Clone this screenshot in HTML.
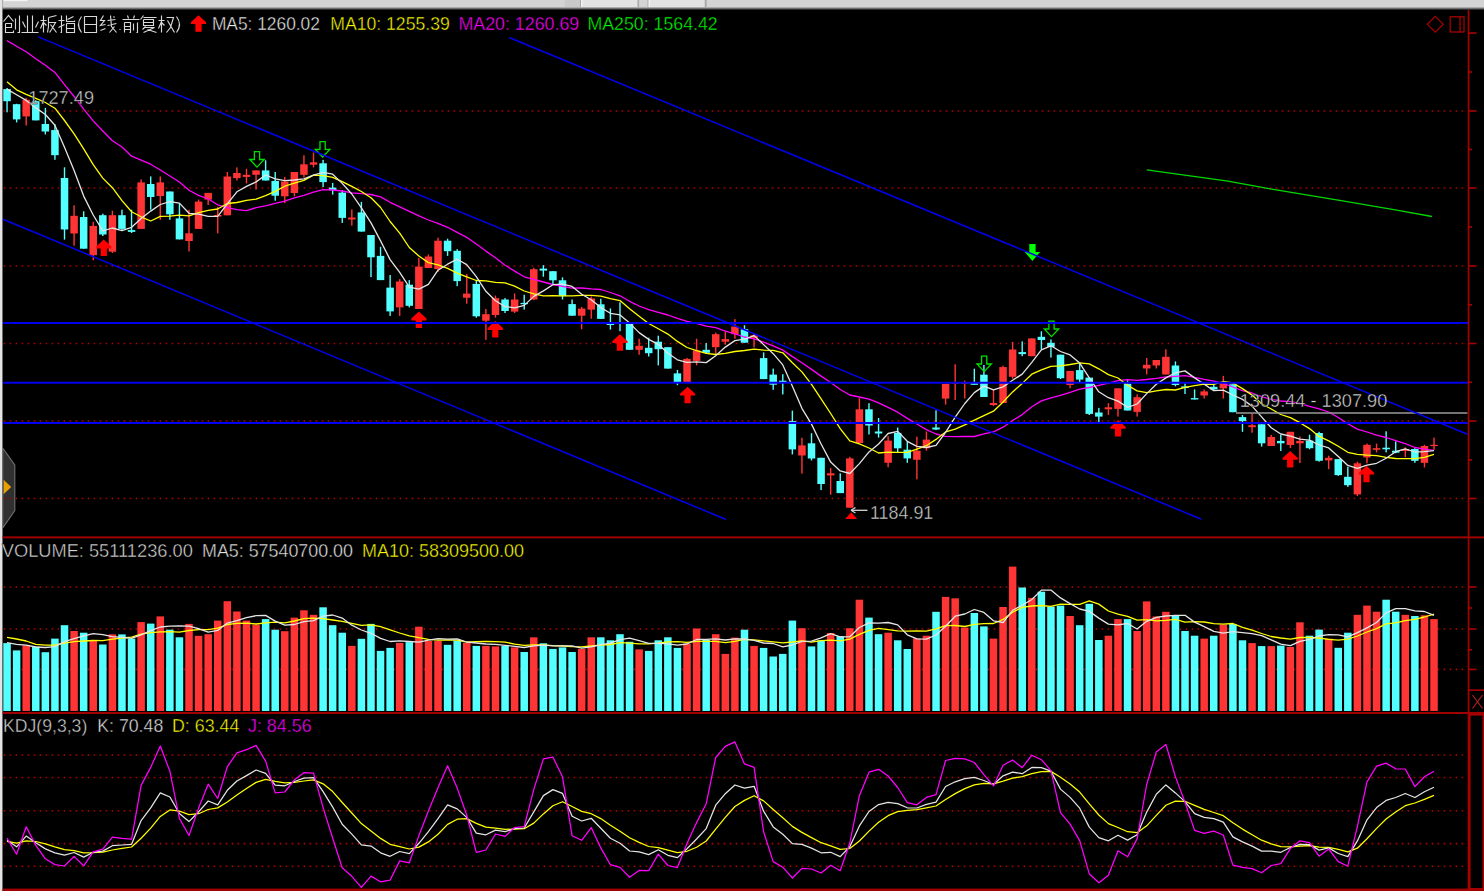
<!DOCTYPE html><html><head><meta charset="utf-8"><style>
html,body{margin:0;padding:0;background:#000;width:1484px;height:891px;overflow:hidden}
svg{display:block}
text{font-family:"Liberation Sans",sans-serif}
</style></head><body>
<svg width="1484" height="891" viewBox="0 0 1484 891">
<defs><linearGradient id="tg" x1="0" y1="0" x2="0" y2="1"><stop offset="0" stop-color="#C8C8C8"/><stop offset="0.5" stop-color="#707070"/><stop offset="1" stop-color="#101010"/></linearGradient></defs>
<rect width="1484" height="891" fill="#000"/>
<rect x="0" y="0" width="1484" height="7" fill="#D4D4D4"/>
<rect x="0" y="7" width="1484" height="3" fill="url(#tg)"/>
<rect x="3.5" y="0" width="24" height="1.2" fill="#F4F4F4"/>
<rect x="564.5" y="0" width="15.5" height="7" fill="#C9C9C9"/>
<rect x="580" y="0" width="1.3" height="7" fill="#A8A8A8"/>
<rect x="581.3" y="0" width="56.5" height="7" fill="#E2E2E2"/>
<rect x="581.3" y="0" width="1.2" height="7" fill="#F6F6F6"/>
<rect x="637.5" y="0" width="1.6" height="7" fill="#A8A8A8"/>
<rect x="647.5" y="0" width="1.2" height="7" fill="#A8A8A8"/>
<rect x="648.7" y="0" width="56" height="7" fill="#E2E2E2"/>
<rect x="648.7" y="0" width="1.2" height="7" fill="#F6F6F6"/>
<rect x="704.8" y="0" width="1.8" height="7" fill="#A8A8A8"/>
<rect x="0" y="0" width="2" height="891" fill="#E4E4E4"/>
<rect x="2" y="0" width="0.7" height="891" fill="#9A9A9A"/>
<path d="M2.7 448 L14.8 465 L14.8 510.5 L2.7 528 Z" fill="#404040" fill-opacity="0.75" stroke="#707070" stroke-width="1.1"/>
<line x1="3.6" y1="111.0" x2="1467.0" y2="111.0" stroke="#B00000" stroke-width="1.6" stroke-dasharray="1.6 4.4"/>
<line x1="3.6" y1="188.0" x2="1467.0" y2="188.0" stroke="#B00000" stroke-width="1.6" stroke-dasharray="1.6 4.4"/>
<line x1="3.6" y1="266.0" x2="1467.0" y2="266.0" stroke="#B00000" stroke-width="1.6" stroke-dasharray="1.6 4.4"/>
<line x1="3.6" y1="343.5" x2="1467.0" y2="343.5" stroke="#B00000" stroke-width="1.6" stroke-dasharray="1.6 4.4"/>
<line x1="3.6" y1="421.0" x2="1467.0" y2="421.0" stroke="#B00000" stroke-width="1.6" stroke-dasharray="1.6 4.4"/>
<line x1="3.6" y1="498.5" x2="1467.0" y2="498.5" stroke="#B00000" stroke-width="1.6" stroke-dasharray="1.6 4.4"/>
<line x1="3.6" y1="587.0" x2="1467.0" y2="587.0" stroke="#B00000" stroke-width="1.6" stroke-dasharray="1.6 4.4"/>
<line x1="3.6" y1="629.0" x2="1467.0" y2="629.0" stroke="#B00000" stroke-width="1.6" stroke-dasharray="1.6 4.4"/>
<line x1="3.6" y1="669.4" x2="1467.0" y2="669.4" stroke="#B00000" stroke-width="1.6" stroke-dasharray="1.6 4.4"/>
<line x1="3.6" y1="755.0" x2="1467.0" y2="755.0" stroke="#B00000" stroke-width="1.6" stroke-dasharray="1.6 4.4"/>
<line x1="3.6" y1="777.5" x2="1467.0" y2="777.5" stroke="#B00000" stroke-width="1.6" stroke-dasharray="1.6 4.4"/>
<line x1="3.6" y1="810.7" x2="1467.0" y2="810.7" stroke="#B00000" stroke-width="1.6" stroke-dasharray="1.6 4.4"/>
<line x1="3.6" y1="843.6" x2="1467.0" y2="843.6" stroke="#B00000" stroke-width="1.6" stroke-dasharray="1.6 4.4"/>
<line x1="3.6" y1="866.2" x2="1467.0" y2="866.2" stroke="#B00000" stroke-width="1.6" stroke-dasharray="1.6 4.4"/>
<rect x="6.35" y="88.00" width="1.4" height="24.30" fill="#54FFFF"/>
<rect x="3.30" y="89.10" width="7.5" height="12.10" fill="#54FFFF"/>
<rect x="15.93" y="103.80" width="1.4" height="18.60" fill="#54FFFF"/>
<rect x="12.88" y="104.20" width="7.5" height="15.20" fill="#54FFFF"/>
<rect x="25.50" y="97.80" width="1.4" height="27.70" fill="#FF3434"/>
<rect x="22.45" y="99.80" width="7.5" height="16.60" fill="#FF3434"/>
<rect x="35.08" y="100.20" width="1.4" height="20.20" fill="#54FFFF"/>
<rect x="32.03" y="101.20" width="7.5" height="19.20" fill="#54FFFF"/>
<rect x="44.66" y="107.90" width="1.4" height="26.60" fill="#54FFFF"/>
<rect x="41.61" y="124.00" width="7.5" height="7.50" fill="#54FFFF"/>
<rect x="54.23" y="124.40" width="1.4" height="35.40" fill="#54FFFF"/>
<rect x="51.18" y="130.10" width="7.5" height="25.10" fill="#54FFFF"/>
<rect x="63.81" y="167.30" width="1.4" height="72.30" fill="#54FFFF"/>
<rect x="60.76" y="178.00" width="7.5" height="51.50" fill="#54FFFF"/>
<rect x="73.39" y="205.30" width="1.4" height="40.40" fill="#FF3434"/>
<rect x="70.34" y="215.80" width="7.5" height="17.70" fill="#FF3434"/>
<rect x="82.97" y="211.30" width="1.4" height="37.40" fill="#54FFFF"/>
<rect x="79.92" y="217.00" width="7.5" height="31.70" fill="#54FFFF"/>
<rect x="92.54" y="221.80" width="1.4" height="38.40" fill="#FF3434"/>
<rect x="89.49" y="225.90" width="7.5" height="29.30" fill="#FF3434"/>
<rect x="102.12" y="213.70" width="1.4" height="22.30" fill="#54FFFF"/>
<rect x="99.07" y="215.20" width="7.5" height="19.30" fill="#54FFFF"/>
<rect x="111.70" y="210.70" width="1.4" height="42.30" fill="#FF3434"/>
<rect x="108.65" y="215.20" width="7.5" height="36.50" fill="#FF3434"/>
<rect x="121.27" y="209.70" width="1.4" height="20.60" fill="#54FFFF"/>
<rect x="118.22" y="215.20" width="7.5" height="13.70" fill="#54FFFF"/>
<rect x="130.85" y="209.70" width="1.4" height="23.30" fill="#54FFFF"/>
<rect x="127.80" y="230.10" width="7.5" height="1.80" fill="#54FFFF"/>
<rect x="140.43" y="179.40" width="1.4" height="49.50" fill="#FF3434"/>
<rect x="137.38" y="182.40" width="7.5" height="46.50" fill="#FF3434"/>
<rect x="150.01" y="176.40" width="1.4" height="33.30" fill="#54FFFF"/>
<rect x="146.96" y="184.00" width="7.5" height="13.00" fill="#54FFFF"/>
<rect x="159.58" y="176.40" width="1.4" height="43.40" fill="#FF3434"/>
<rect x="156.53" y="182.40" width="7.5" height="13.60" fill="#FF3434"/>
<rect x="169.16" y="191.50" width="1.4" height="28.30" fill="#54FFFF"/>
<rect x="166.11" y="191.50" width="7.5" height="22.80" fill="#54FFFF"/>
<rect x="178.74" y="203.60" width="1.4" height="35.80" fill="#54FFFF"/>
<rect x="175.69" y="218.40" width="7.5" height="21.00" fill="#54FFFF"/>
<rect x="188.31" y="209.70" width="1.4" height="41.80" fill="#FF3434"/>
<rect x="185.26" y="233.30" width="7.5" height="7.70" fill="#FF3434"/>
<rect x="197.89" y="199.60" width="1.4" height="29.30" fill="#FF3434"/>
<rect x="194.84" y="201.60" width="7.5" height="27.30" fill="#FF3434"/>
<rect x="207.47" y="192.90" width="1.4" height="12.10" fill="#FF3434"/>
<rect x="204.42" y="192.90" width="7.5" height="6.70" fill="#FF3434"/>
<rect x="217.04" y="206.80" width="1.4" height="26.60" fill="#FF3434"/>
<rect x="213.99" y="215.00" width="7.5" height="1.50" fill="#FF3434"/>
<rect x="226.62" y="172.00" width="1.4" height="43.30" fill="#FF3434"/>
<rect x="223.57" y="176.50" width="7.5" height="38.80" fill="#FF3434"/>
<rect x="236.20" y="167.40" width="1.4" height="13.10" fill="#FF3434"/>
<rect x="233.15" y="173.00" width="7.5" height="5.10" fill="#FF3434"/>
<rect x="245.78" y="168.80" width="1.4" height="14.70" fill="#FF3434"/>
<rect x="242.73" y="174.80" width="7.5" height="2.10" fill="#FF3434"/>
<rect x="255.35" y="170.40" width="1.4" height="19.20" fill="#FF3434"/>
<rect x="252.30" y="170.40" width="7.5" height="4.40" fill="#FF3434"/>
<rect x="264.93" y="160.30" width="1.4" height="20.20" fill="#54FFFF"/>
<rect x="261.88" y="170.40" width="7.5" height="10.10" fill="#54FFFF"/>
<rect x="274.51" y="172.00" width="1.4" height="28.70" fill="#54FFFF"/>
<rect x="271.46" y="180.90" width="7.5" height="14.80" fill="#54FFFF"/>
<rect x="284.08" y="176.90" width="1.4" height="26.20" fill="#FF3434"/>
<rect x="281.03" y="181.50" width="7.5" height="14.80" fill="#FF3434"/>
<rect x="293.66" y="172.00" width="1.4" height="24.30" fill="#FF3434"/>
<rect x="290.61" y="172.00" width="7.5" height="21.00" fill="#FF3434"/>
<rect x="303.24" y="155.30" width="1.4" height="22.20" fill="#FF3434"/>
<rect x="300.19" y="164.30" width="7.5" height="10.50" fill="#FF3434"/>
<rect x="312.81" y="152.60" width="1.4" height="14.80" fill="#FF3434"/>
<rect x="309.76" y="162.30" width="7.5" height="2.40" fill="#FF3434"/>
<rect x="322.39" y="159.90" width="1.4" height="27.10" fill="#54FFFF"/>
<rect x="319.34" y="163.30" width="7.5" height="18.80" fill="#54FFFF"/>
<rect x="331.97" y="182.90" width="1.4" height="11.70" fill="#54FFFF"/>
<rect x="328.92" y="187.60" width="7.5" height="2.60" fill="#54FFFF"/>
<rect x="341.55" y="190.20" width="1.4" height="32.70" fill="#54FFFF"/>
<rect x="338.50" y="192.60" width="7.5" height="25.30" fill="#54FFFF"/>
<rect x="351.12" y="209.40" width="1.4" height="16.20" fill="#FF3434"/>
<rect x="348.07" y="217.50" width="7.5" height="2.00" fill="#FF3434"/>
<rect x="360.70" y="201.90" width="1.4" height="29.70" fill="#54FFFF"/>
<rect x="357.65" y="212.40" width="7.5" height="19.20" fill="#54FFFF"/>
<rect x="370.28" y="235.00" width="1.4" height="42.10" fill="#54FFFF"/>
<rect x="367.23" y="235.00" width="7.5" height="22.30" fill="#54FFFF"/>
<rect x="379.85" y="246.80" width="1.4" height="33.30" fill="#54FFFF"/>
<rect x="376.80" y="255.90" width="7.5" height="24.20" fill="#54FFFF"/>
<rect x="389.43" y="275.00" width="1.4" height="40.90" fill="#54FFFF"/>
<rect x="386.38" y="287.60" width="7.5" height="23.80" fill="#54FFFF"/>
<rect x="399.01" y="279.10" width="1.4" height="36.80" fill="#FF3434"/>
<rect x="395.96" y="281.50" width="7.5" height="25.90" fill="#FF3434"/>
<rect x="408.58" y="280.10" width="1.4" height="27.30" fill="#54FFFF"/>
<rect x="405.53" y="284.70" width="7.5" height="21.10" fill="#54FFFF"/>
<rect x="418.16" y="257.90" width="1.4" height="51.10" fill="#FF3434"/>
<rect x="415.11" y="266.60" width="7.5" height="42.40" fill="#FF3434"/>
<rect x="427.74" y="254.40" width="1.4" height="13.60" fill="#FF3434"/>
<rect x="424.69" y="256.50" width="7.5" height="11.50" fill="#FF3434"/>
<rect x="437.31" y="237.70" width="1.4" height="34.30" fill="#FF3434"/>
<rect x="434.26" y="240.70" width="7.5" height="28.30" fill="#FF3434"/>
<rect x="446.89" y="238.70" width="1.4" height="17.20" fill="#54FFFF"/>
<rect x="443.84" y="240.70" width="7.5" height="10.50" fill="#54FFFF"/>
<rect x="456.47" y="249.20" width="1.4" height="37.00" fill="#54FFFF"/>
<rect x="453.42" y="250.80" width="7.5" height="30.30" fill="#54FFFF"/>
<rect x="466.05" y="274.00" width="1.4" height="29.70" fill="#FF3434"/>
<rect x="463.00" y="293.60" width="7.5" height="4.10" fill="#FF3434"/>
<rect x="475.62" y="280.30" width="1.4" height="37.40" fill="#54FFFF"/>
<rect x="472.57" y="283.90" width="7.5" height="32.40" fill="#54FFFF"/>
<rect x="485.20" y="309.00" width="1.4" height="30.90" fill="#FF3434"/>
<rect x="482.15" y="314.20" width="7.5" height="6.50" fill="#FF3434"/>
<rect x="494.78" y="295.50" width="1.4" height="22.20" fill="#FF3434"/>
<rect x="491.73" y="298.10" width="7.5" height="16.90" fill="#FF3434"/>
<rect x="504.35" y="298.10" width="1.4" height="14.90" fill="#54FFFF"/>
<rect x="501.30" y="299.50" width="7.5" height="11.50" fill="#54FFFF"/>
<rect x="513.93" y="293.40" width="1.4" height="19.60" fill="#FF3434"/>
<rect x="510.88" y="299.50" width="7.5" height="12.10" fill="#FF3434"/>
<rect x="523.51" y="294.80" width="1.4" height="14.80" fill="#54FFFF"/>
<rect x="520.46" y="302.90" width="7.5" height="1.30" fill="#54FFFF"/>
<rect x="533.08" y="267.80" width="1.4" height="32.30" fill="#FF3434"/>
<rect x="530.03" y="269.20" width="7.5" height="30.30" fill="#FF3434"/>
<rect x="542.66" y="265.20" width="1.4" height="11.50" fill="#54FFFF"/>
<rect x="539.61" y="268.60" width="7.5" height="2.00" fill="#54FFFF"/>
<rect x="552.24" y="271.20" width="1.4" height="13.10" fill="#54FFFF"/>
<rect x="549.19" y="271.20" width="7.5" height="9.10" fill="#54FFFF"/>
<rect x="561.82" y="277.30" width="1.4" height="22.20" fill="#54FFFF"/>
<rect x="558.77" y="280.30" width="7.5" height="15.80" fill="#54FFFF"/>
<rect x="571.39" y="299.50" width="1.4" height="16.20" fill="#54FFFF"/>
<rect x="568.34" y="304.10" width="7.5" height="11.60" fill="#54FFFF"/>
<rect x="580.97" y="307.00" width="1.4" height="22.20" fill="#FF3434"/>
<rect x="577.92" y="308.60" width="7.5" height="7.10" fill="#FF3434"/>
<rect x="590.55" y="296.50" width="1.4" height="22.20" fill="#FF3434"/>
<rect x="587.50" y="298.50" width="7.5" height="11.10" fill="#FF3434"/>
<rect x="600.12" y="298.70" width="1.4" height="20.20" fill="#54FFFF"/>
<rect x="597.07" y="304.30" width="7.5" height="14.60" fill="#54FFFF"/>
<rect x="609.70" y="308.40" width="1.4" height="21.20" fill="#54FFFF"/>
<rect x="606.65" y="322.90" width="7.5" height="2.10" fill="#54FFFF"/>
<rect x="619.28" y="302.30" width="1.4" height="28.90" fill="#54FFFF"/>
<rect x="616.23" y="322.20" width="7.5" height="1.30" fill="#54FFFF"/>
<rect x="628.85" y="323.50" width="1.4" height="26.30" fill="#54FFFF"/>
<rect x="625.80" y="323.50" width="7.5" height="26.30" fill="#54FFFF"/>
<rect x="638.43" y="338.70" width="1.4" height="16.10" fill="#FF3434"/>
<rect x="635.38" y="345.80" width="7.5" height="4.00" fill="#FF3434"/>
<rect x="648.01" y="337.70" width="1.4" height="18.80" fill="#54FFFF"/>
<rect x="644.96" y="347.80" width="7.5" height="5.40" fill="#54FFFF"/>
<rect x="657.59" y="335.70" width="1.4" height="29.70" fill="#54FFFF"/>
<rect x="654.54" y="341.70" width="7.5" height="7.50" fill="#54FFFF"/>
<rect x="667.16" y="347.20" width="1.4" height="21.40" fill="#54FFFF"/>
<rect x="664.11" y="347.20" width="7.5" height="21.40" fill="#54FFFF"/>
<rect x="676.74" y="370.00" width="1.4" height="15.20" fill="#54FFFF"/>
<rect x="673.69" y="373.40" width="7.5" height="8.70" fill="#54FFFF"/>
<rect x="686.32" y="357.90" width="1.4" height="24.20" fill="#FF3434"/>
<rect x="683.27" y="358.90" width="7.5" height="23.20" fill="#FF3434"/>
<rect x="695.89" y="338.70" width="1.4" height="26.70" fill="#FF3434"/>
<rect x="692.84" y="350.40" width="7.5" height="10.50" fill="#FF3434"/>
<rect x="705.47" y="343.10" width="1.4" height="10.70" fill="#54FFFF"/>
<rect x="702.42" y="349.80" width="7.5" height="3.00" fill="#54FFFF"/>
<rect x="715.05" y="332.60" width="1.4" height="22.20" fill="#FF3434"/>
<rect x="712.00" y="334.20" width="7.5" height="13.00" fill="#FF3434"/>
<rect x="724.62" y="331.60" width="1.4" height="13.10" fill="#FF3434"/>
<rect x="721.57" y="339.10" width="7.5" height="2.60" fill="#FF3434"/>
<rect x="734.20" y="319.10" width="1.4" height="19.60" fill="#FF3434"/>
<rect x="731.15" y="326.60" width="7.5" height="7.60" fill="#FF3434"/>
<rect x="743.78" y="325.20" width="1.4" height="17.50" fill="#54FFFF"/>
<rect x="740.73" y="329.20" width="7.5" height="13.50" fill="#54FFFF"/>
<rect x="753.36" y="333.80" width="1.4" height="13.60" fill="#FF3434"/>
<rect x="750.31" y="335.30" width="7.5" height="2.60" fill="#FF3434"/>
<rect x="762.93" y="352.40" width="1.4" height="26.70" fill="#54FFFF"/>
<rect x="759.88" y="358.10" width="7.5" height="21.00" fill="#54FFFF"/>
<rect x="772.51" y="368.60" width="1.4" height="21.20" fill="#54FFFF"/>
<rect x="769.46" y="374.60" width="7.5" height="10.10" fill="#54FFFF"/>
<rect x="782.09" y="374.20" width="1.4" height="20.20" fill="#54FFFF"/>
<rect x="779.04" y="380.70" width="7.5" height="2.00" fill="#54FFFF"/>
<rect x="791.66" y="410.60" width="1.4" height="43.80" fill="#54FFFF"/>
<rect x="788.61" y="421.10" width="7.5" height="28.30" fill="#54FFFF"/>
<rect x="801.24" y="437.70" width="1.4" height="35.90" fill="#FF3434"/>
<rect x="798.19" y="445.40" width="7.5" height="10.10" fill="#FF3434"/>
<rect x="810.82" y="433.20" width="1.4" height="27.30" fill="#54FFFF"/>
<rect x="807.77" y="443.30" width="7.5" height="15.20" fill="#54FFFF"/>
<rect x="820.39" y="457.80" width="1.4" height="32.30" fill="#54FFFF"/>
<rect x="817.34" y="457.80" width="7.5" height="26.20" fill="#54FFFF"/>
<rect x="829.97" y="467.90" width="1.4" height="26.80" fill="#FF3434"/>
<rect x="826.92" y="473.30" width="7.5" height="2.10" fill="#FF3434"/>
<rect x="839.55" y="473.30" width="1.4" height="19.80" fill="#54FFFF"/>
<rect x="836.50" y="481.00" width="7.5" height="12.10" fill="#54FFFF"/>
<rect x="849.13" y="456.80" width="1.4" height="50.90" fill="#FF3434"/>
<rect x="846.08" y="458.40" width="7.5" height="49.30" fill="#FF3434"/>
<rect x="858.70" y="398.20" width="1.4" height="44.80" fill="#FF3434"/>
<rect x="855.65" y="409.30" width="7.5" height="33.70" fill="#FF3434"/>
<rect x="868.28" y="403.20" width="1.4" height="31.30" fill="#54FFFF"/>
<rect x="865.23" y="409.30" width="7.5" height="16.20" fill="#54FFFF"/>
<rect x="877.86" y="418.00" width="1.4" height="19.60" fill="#54FFFF"/>
<rect x="874.81" y="431.50" width="7.5" height="2.00" fill="#54FFFF"/>
<rect x="887.43" y="436.20" width="1.4" height="31.10" fill="#FF3434"/>
<rect x="884.38" y="440.60" width="7.5" height="22.20" fill="#FF3434"/>
<rect x="897.01" y="427.50" width="1.4" height="24.80" fill="#54FFFF"/>
<rect x="893.96" y="432.90" width="7.5" height="15.40" fill="#54FFFF"/>
<rect x="906.59" y="441.60" width="1.4" height="21.20" fill="#54FFFF"/>
<rect x="903.54" y="449.70" width="7.5" height="8.70" fill="#54FFFF"/>
<rect x="916.16" y="436.60" width="1.4" height="42.80" fill="#FF3434"/>
<rect x="913.11" y="450.70" width="7.5" height="9.10" fill="#FF3434"/>
<rect x="925.74" y="431.50" width="1.4" height="19.20" fill="#FF3434"/>
<rect x="922.69" y="439.60" width="7.5" height="8.70" fill="#FF3434"/>
<rect x="935.32" y="410.30" width="1.4" height="19.80" fill="#54FFFF"/>
<rect x="932.27" y="427.50" width="7.5" height="2.00" fill="#54FFFF"/>
<rect x="944.90" y="383.80" width="1.4" height="20.80" fill="#FF3434"/>
<rect x="941.85" y="383.80" width="7.5" height="14.80" fill="#FF3434"/>
<rect x="954.47" y="364.30" width="1.4" height="35.70" fill="#FF3434"/>
<rect x="951.42" y="382.40" width="7.5" height="1.30" fill="#FF3434"/>
<rect x="964.05" y="380.60" width="1.4" height="17.90" fill="#FF3434"/>
<rect x="961.00" y="382.40" width="7.5" height="1.30" fill="#FF3434"/>
<rect x="973.63" y="368.70" width="1.4" height="16.10" fill="#54FFFF"/>
<rect x="970.58" y="383.20" width="7.5" height="1.60" fill="#54FFFF"/>
<rect x="983.20" y="365.00" width="1.4" height="32.00" fill="#54FFFF"/>
<rect x="980.15" y="374.70" width="7.5" height="22.30" fill="#54FFFF"/>
<rect x="992.78" y="389.90" width="1.4" height="16.10" fill="#FF3434"/>
<rect x="989.73" y="403.00" width="7.5" height="2.00" fill="#FF3434"/>
<rect x="1002.36" y="365.70" width="1.4" height="37.30" fill="#FF3434"/>
<rect x="999.31" y="367.10" width="7.5" height="35.90" fill="#FF3434"/>
<rect x="1011.93" y="342.00" width="1.4" height="36.80" fill="#FF3434"/>
<rect x="1008.88" y="349.50" width="7.5" height="27.30" fill="#FF3434"/>
<rect x="1021.51" y="341.40" width="1.4" height="14.80" fill="#54FFFF"/>
<rect x="1018.46" y="352.10" width="7.5" height="2.00" fill="#54FFFF"/>
<rect x="1031.09" y="338.40" width="1.4" height="17.80" fill="#FF3434"/>
<rect x="1028.04" y="338.40" width="7.5" height="17.80" fill="#FF3434"/>
<rect x="1040.67" y="331.30" width="1.4" height="18.20" fill="#54FFFF"/>
<rect x="1037.62" y="336.80" width="7.5" height="3.20" fill="#54FFFF"/>
<rect x="1050.24" y="339.40" width="1.4" height="18.20" fill="#54FFFF"/>
<rect x="1047.19" y="342.80" width="7.5" height="4.10" fill="#54FFFF"/>
<rect x="1059.82" y="354.70" width="1.4" height="24.30" fill="#54FFFF"/>
<rect x="1056.77" y="354.70" width="7.5" height="23.50" fill="#54FFFF"/>
<rect x="1069.40" y="370.90" width="1.4" height="17.40" fill="#FF3434"/>
<rect x="1066.35" y="370.90" width="7.5" height="14.10" fill="#FF3434"/>
<rect x="1078.97" y="363.40" width="1.4" height="18.80" fill="#54FFFF"/>
<rect x="1075.92" y="370.10" width="7.5" height="9.50" fill="#54FFFF"/>
<rect x="1088.55" y="377.60" width="1.4" height="37.40" fill="#54FFFF"/>
<rect x="1085.50" y="377.60" width="7.5" height="36.30" fill="#54FFFF"/>
<rect x="1098.13" y="407.90" width="1.4" height="15.10" fill="#54FFFF"/>
<rect x="1095.08" y="412.50" width="7.5" height="4.10" fill="#54FFFF"/>
<rect x="1107.70" y="403.20" width="1.4" height="11.80" fill="#FF3434"/>
<rect x="1104.65" y="407.30" width="7.5" height="2.00" fill="#FF3434"/>
<rect x="1117.28" y="388.30" width="1.4" height="28.30" fill="#FF3434"/>
<rect x="1114.23" y="388.30" width="7.5" height="20.60" fill="#FF3434"/>
<rect x="1126.86" y="380.20" width="1.4" height="30.30" fill="#54FFFF"/>
<rect x="1123.81" y="383.60" width="7.5" height="26.90" fill="#54FFFF"/>
<rect x="1136.44" y="394.30" width="1.4" height="22.30" fill="#FF3434"/>
<rect x="1133.39" y="397.20" width="7.5" height="14.70" fill="#FF3434"/>
<rect x="1146.01" y="358.00" width="1.4" height="16.50" fill="#FF3434"/>
<rect x="1142.96" y="364.80" width="7.5" height="3.70" fill="#FF3434"/>
<rect x="1155.59" y="360.00" width="1.4" height="8.50" fill="#FF3434"/>
<rect x="1152.54" y="360.00" width="7.5" height="5.50" fill="#FF3434"/>
<rect x="1165.17" y="349.30" width="1.4" height="25.20" fill="#FF3434"/>
<rect x="1162.12" y="356.80" width="7.5" height="17.70" fill="#FF3434"/>
<rect x="1174.74" y="361.40" width="1.4" height="24.90" fill="#54FFFF"/>
<rect x="1171.69" y="365.50" width="7.5" height="19.50" fill="#54FFFF"/>
<rect x="1184.32" y="383.30" width="1.4" height="10.70" fill="#54FFFF"/>
<rect x="1181.27" y="386.40" width="7.5" height="1.60" fill="#54FFFF"/>
<rect x="1193.90" y="389.40" width="1.4" height="10.10" fill="#54FFFF"/>
<rect x="1190.85" y="398.10" width="7.5" height="1.40" fill="#54FFFF"/>
<rect x="1203.47" y="389.40" width="1.4" height="9.10" fill="#FF3434"/>
<rect x="1200.42" y="391.40" width="7.5" height="4.10" fill="#FF3434"/>
<rect x="1213.05" y="384.30" width="1.4" height="6.10" fill="#54FFFF"/>
<rect x="1210.00" y="386.80" width="7.5" height="2.60" fill="#54FFFF"/>
<rect x="1222.63" y="375.90" width="1.4" height="22.60" fill="#FF3434"/>
<rect x="1219.58" y="382.70" width="7.5" height="5.70" fill="#FF3434"/>
<rect x="1232.21" y="384.30" width="1.4" height="27.90" fill="#54FFFF"/>
<rect x="1229.16" y="384.30" width="7.5" height="27.90" fill="#54FFFF"/>
<rect x="1241.78" y="415.00" width="1.4" height="16.80" fill="#54FFFF"/>
<rect x="1238.73" y="417.10" width="7.5" height="4.00" fill="#54FFFF"/>
<rect x="1251.36" y="413.60" width="1.4" height="19.20" fill="#FF3434"/>
<rect x="1248.31" y="425.20" width="7.5" height="2.00" fill="#FF3434"/>
<rect x="1260.94" y="424.30" width="1.4" height="22.30" fill="#54FFFF"/>
<rect x="1257.89" y="424.30" width="7.5" height="19.00" fill="#54FFFF"/>
<rect x="1270.51" y="434.80" width="1.4" height="11.20" fill="#FF3434"/>
<rect x="1267.46" y="436.90" width="7.5" height="9.10" fill="#FF3434"/>
<rect x="1280.09" y="434.80" width="1.4" height="16.20" fill="#54FFFF"/>
<rect x="1277.04" y="440.90" width="7.5" height="2.40" fill="#54FFFF"/>
<rect x="1289.67" y="431.80" width="1.4" height="16.20" fill="#FF3434"/>
<rect x="1286.62" y="431.80" width="7.5" height="13.20" fill="#FF3434"/>
<rect x="1299.24" y="436.50" width="1.4" height="26.60" fill="#FF3434"/>
<rect x="1296.19" y="440.90" width="7.5" height="2.40" fill="#FF3434"/>
<rect x="1308.82" y="434.70" width="1.4" height="14.60" fill="#54FFFF"/>
<rect x="1305.77" y="440.60" width="7.5" height="7.60" fill="#54FFFF"/>
<rect x="1318.40" y="431.80" width="1.4" height="29.80" fill="#54FFFF"/>
<rect x="1315.35" y="433.00" width="7.5" height="27.80" fill="#54FFFF"/>
<rect x="1327.98" y="455.70" width="1.4" height="13.50" fill="#FF3434"/>
<rect x="1324.93" y="457.80" width="7.5" height="2.60" fill="#FF3434"/>
<rect x="1337.55" y="459.10" width="1.4" height="16.80" fill="#54FFFF"/>
<rect x="1334.50" y="459.10" width="7.5" height="16.00" fill="#54FFFF"/>
<rect x="1347.13" y="466.70" width="1.4" height="20.20" fill="#54FFFF"/>
<rect x="1344.08" y="476.80" width="7.5" height="8.40" fill="#54FFFF"/>
<rect x="1356.71" y="461.60" width="1.4" height="34.50" fill="#FF3434"/>
<rect x="1353.66" y="463.30" width="7.5" height="31.10" fill="#FF3434"/>
<rect x="1366.28" y="443.60" width="1.4" height="19.70" fill="#FF3434"/>
<rect x="1363.23" y="444.80" width="7.5" height="12.60" fill="#FF3434"/>
<rect x="1375.86" y="443.60" width="1.4" height="8.80" fill="#FF3434"/>
<rect x="1372.81" y="448.20" width="7.5" height="1.60" fill="#FF3434"/>
<rect x="1385.44" y="431.30" width="1.4" height="21.10" fill="#54FFFF"/>
<rect x="1382.39" y="447.70" width="7.5" height="1.60" fill="#54FFFF"/>
<rect x="1395.01" y="441.40" width="1.4" height="11.80" fill="#54FFFF"/>
<rect x="1391.96" y="450.70" width="7.5" height="2.00" fill="#54FFFF"/>
<rect x="1404.59" y="447.30" width="1.4" height="9.80" fill="#FF3434"/>
<rect x="1401.54" y="449.00" width="7.5" height="2.00" fill="#FF3434"/>
<rect x="1414.17" y="448.20" width="1.4" height="14.60" fill="#54FFFF"/>
<rect x="1411.12" y="449.00" width="7.5" height="11.80" fill="#54FFFF"/>
<rect x="1423.75" y="444.80" width="1.4" height="22.70" fill="#FF3434"/>
<rect x="1420.70" y="446.00" width="7.5" height="16.80" fill="#FF3434"/>
<rect x="1433.32" y="437.60" width="1.4" height="12.20" fill="#FF3434"/>
<rect x="1430.27" y="444.80" width="7.5" height="1.30" fill="#FF3434"/>
<polyline points="7.0,40.6 16.6,46.2 26.2,51.7 35.8,58.7 45.4,65.3 54.9,72.4 64.5,84.6 74.1,96.5 83.7,109.1 93.2,120.9 102.8,131.0 112.4,140.7 122.0,147.0 131.6,156.2 141.1,160.2 150.7,164.2 160.3,170.0 169.9,176.0 179.4,182.0 189.0,190.3 198.6,195.4 208.2,199.0 217.7,204.8 227.3,207.6 236.9,209.7 246.5,210.7 256.1,207.7 265.6,205.9 275.2,203.3 284.8,201.1 294.4,197.9 303.9,195.4 313.5,192.1 323.1,189.6 332.7,190.0 342.2,191.0 351.8,192.8 361.4,193.6 371.0,194.5 380.6,196.9 390.1,202.3 399.7,206.8 409.3,211.3 418.9,215.8 428.4,220.0 438.0,223.3 447.6,227.3 457.2,232.4 466.7,237.3 476.3,244.0 485.9,251.1 495.5,257.8 505.1,265.2 514.6,271.1 524.2,276.8 533.8,279.4 543.4,282.0 552.9,284.5 562.5,286.4 572.1,288.2 581.7,288.0 591.2,288.9 600.8,289.5 610.4,292.5 620.0,295.8 629.6,301.3 639.1,306.0 648.7,309.6 658.3,312.4 667.9,315.0 677.4,318.4 687.0,321.4 696.6,323.4 706.2,326.1 715.7,327.6 725.3,331.1 734.9,333.9 744.5,337.0 754.1,338.9 763.6,342.1 773.2,345.9 782.8,350.1 792.4,356.6 801.9,362.7 811.5,369.4 821.1,376.1 830.7,382.5 840.2,389.5 849.8,395.0 859.4,397.0 869.0,399.2 878.6,402.9 888.1,407.4 897.7,412.2 907.3,418.4 916.9,424.0 926.4,429.6 936.0,434.0 945.6,436.4 955.2,436.6 964.8,436.4 974.3,436.5 983.9,433.9 993.5,431.8 1003.1,427.2 1012.6,420.5 1022.2,414.6 1031.8,406.8 1041.4,400.9 1050.9,397.8 1060.5,395.4 1070.1,392.3 1079.7,389.2 1089.3,387.5 1098.8,385.4 1108.4,383.2 1118.0,380.7 1127.6,379.7 1137.1,380.4 1146.7,379.5 1156.3,378.4 1165.9,377.0 1175.4,376.4 1185.0,375.7 1194.6,377.3 1204.2,379.4 1213.8,381.1 1223.3,383.4 1232.9,387.0 1242.5,390.7 1252.1,393.0 1261.6,396.6 1271.2,399.5 1280.8,401.0 1290.4,401.7 1299.9,403.4 1309.5,406.4 1319.1,408.9 1328.7,412.0 1338.3,417.5 1347.8,423.7 1357.4,429.1 1367.0,432.0 1376.6,435.1 1386.1,437.5 1395.7,440.6 1405.3,443.6 1414.9,447.5 1424.4,449.2 1434.0,450.4" fill="none" stroke="#FF00FF" stroke-width="1.3" stroke-linejoin="round" />
<polyline points="7.0,81.8 16.6,89.8 26.2,94.4 35.8,98.3 45.4,102.5 54.9,108.2 64.5,120.5 74.1,133.8 83.7,148.9 93.2,164.7 102.8,178.1 112.4,187.7 122.0,200.6 131.6,211.7 141.1,216.8 150.7,221.0 160.3,216.3 169.9,216.1 179.4,215.2 189.0,215.9 198.6,212.6 208.2,210.4 217.7,209.0 227.3,203.5 236.9,202.5 246.5,200.3 256.1,199.1 265.6,195.7 275.2,191.4 284.8,186.2 294.4,183.2 303.9,180.4 313.5,175.1 323.1,175.7 332.7,177.4 342.2,181.7 351.8,186.4 361.4,191.5 371.0,197.7 380.6,207.5 390.1,221.5 399.7,233.2 409.3,247.5 418.9,256.0 428.4,262.6 438.0,264.9 447.6,268.3 457.2,273.2 466.7,276.9 476.3,280.5 485.9,280.8 495.5,282.4 505.1,282.9 514.6,286.2 524.2,291.0 533.8,293.8 543.4,295.8 552.9,295.7 562.5,295.9 572.1,295.9 581.7,295.3 591.2,295.4 600.8,296.1 610.4,298.7 620.0,300.6 629.6,308.7 639.1,316.2 648.7,323.5 658.3,328.8 667.9,334.1 677.4,341.4 687.0,347.5 696.6,350.6 706.2,353.4 715.7,354.5 725.3,353.4 734.9,351.5 744.5,350.5 754.1,349.1 763.6,350.1 773.2,350.4 782.8,352.8 792.4,362.7 801.9,371.9 811.5,384.4 821.1,398.8 830.7,413.5 840.2,428.6 849.8,440.9 859.4,443.9 869.0,448.0 878.6,453.0 888.1,452.2 897.7,452.4 907.3,452.4 916.9,449.1 926.4,445.7 936.0,439.4 945.6,431.9 955.2,429.2 964.8,424.9 974.3,420.1 983.9,415.7 993.5,411.2 1003.1,402.0 1012.6,391.9 1022.2,383.4 1031.8,374.2 1041.4,369.9 1050.9,366.3 1060.5,365.9 1070.1,364.5 1079.7,362.8 1089.3,363.9 1098.8,368.8 1108.4,374.6 1118.0,378.0 1127.6,385.2 1137.1,390.9 1146.7,392.7 1156.3,390.9 1165.9,389.5 1175.4,390.0 1185.0,387.4 1194.6,385.7 1204.2,384.1 1213.8,384.3 1223.3,381.5 1232.9,383.0 1242.5,388.6 1252.1,395.1 1261.6,403.8 1271.2,409.0 1280.8,414.5 1290.4,417.7 1299.9,422.7 1309.5,428.6 1319.1,436.4 1328.7,440.9 1338.3,446.3 1347.8,452.3 1357.4,454.3 1367.0,455.1 1376.6,455.6 1386.1,457.4 1395.7,458.5 1405.3,458.6 1414.9,458.6 1424.4,457.4 1434.0,454.4" fill="none" stroke="#FFFF00" stroke-width="1.3" stroke-linejoin="round" />
<polyline points="1146.8,169.8 1228.0,181.2 1270.2,188.8 1345.6,201.4 1399.5,210.6 1431.9,216.5" fill="none" stroke="#00D800" stroke-width="1.3" stroke-linejoin="round" />
<polyline points="7.0,89.1 16.6,94.7 26.2,100.4 35.8,107.9 45.4,114.5 54.9,125.3 64.5,147.3 74.1,170.5 83.7,196.1 93.2,215.0 102.8,230.9 112.4,228.0 122.0,230.6 131.6,227.3 141.1,218.6 150.7,211.1 160.3,204.5 169.9,201.6 179.4,203.1 189.0,213.3 198.6,214.2 208.2,216.3 217.7,216.4 227.3,203.9 236.9,191.8 246.5,186.4 256.1,181.9 265.6,175.0 275.2,178.9 284.8,180.6 294.4,180.0 303.9,178.8 313.5,175.2 323.1,172.4 332.7,174.2 342.2,183.4 351.8,194.0 361.4,207.9 371.0,222.9 380.6,240.9 390.1,259.6 399.7,272.4 409.3,287.2 418.9,289.1 428.4,284.4 438.0,270.2 447.6,264.2 457.2,259.2 466.7,264.6 476.3,276.6 485.9,291.3 495.5,300.7 505.1,306.6 514.6,307.8 524.2,305.4 533.8,296.4 543.4,290.9 552.9,284.7 562.5,284.1 572.1,286.4 581.7,294.3 591.2,299.8 600.8,307.6 610.4,313.3 620.0,314.9 629.6,323.1 639.1,332.6 648.7,339.4 658.3,344.3 667.9,353.3 677.4,359.8 687.0,362.4 696.6,361.8 706.2,362.6 715.7,355.7 725.3,347.1 734.9,340.6 744.5,339.1 754.1,335.6 763.6,344.6 773.2,353.7 782.8,364.9 792.4,386.2 801.9,408.3 811.5,424.1 821.1,444.0 830.7,462.1 840.2,470.9 849.8,473.5 859.4,463.6 869.0,451.9 878.6,444.0 888.1,433.5 897.7,431.4 907.3,441.3 916.9,446.3 926.4,447.5 936.0,445.3 945.6,432.4 955.2,417.2 964.8,403.5 974.3,392.6 983.9,386.1 993.5,389.9 1003.1,386.9 1012.6,380.3 1022.2,374.1 1031.8,362.4 1041.4,349.8 1050.9,345.8 1060.5,351.5 1070.1,354.9 1079.7,363.1 1089.3,377.9 1098.8,391.8 1108.4,397.7 1118.0,401.1 1127.6,407.3 1137.1,404.0 1146.7,393.6 1156.3,384.2 1165.9,377.9 1175.4,372.8 1185.0,370.9 1194.6,377.9 1204.2,384.1 1213.8,390.7 1223.3,390.2 1232.9,395.0 1242.5,399.4 1252.1,406.1 1261.6,416.9 1271.2,427.7 1280.8,434.0 1290.4,436.1 1299.9,439.2 1309.5,440.2 1319.1,445.0 1328.7,447.9 1338.3,456.6 1347.8,465.4 1357.4,468.4 1367.0,465.2 1376.6,463.3 1386.1,458.2 1395.7,451.7 1405.3,448.8 1414.9,452.0 1424.4,451.6 1434.0,450.7" fill="none" stroke="#E4E4E4" stroke-width="1.3" stroke-linejoin="round" />
<path d="M103.8 239.6 L111.4 246.6 L111.4 248.4 L106.9 248.4 L106.9 256.1 L100.7 256.1 L100.7 248.4 L96.2 248.4 L96.2 246.6 Z" fill="#FF0000"/>
<path d="M418.9 311.6 L426.5 318.6 L426.5 320.4 L422.0 320.4 L422.0 328.1 L415.8 328.1 L415.8 320.4 L411.3 320.4 L411.3 318.6 Z" fill="#FF0000"/>
<path d="M495.3 321.1 L502.9 328.1 L502.9 329.9 L498.4 329.9 L498.4 337.6 L492.2 337.6 L492.2 329.9 L487.7 329.9 L487.7 328.1 Z" fill="#FF0000"/>
<path d="M619.9 334.2 L627.5 341.2 L627.5 343.0 L623.0 343.0 L623.0 350.7 L616.8 350.7 L616.8 343.0 L612.3 343.0 L612.3 341.2 Z" fill="#FF0000"/>
<path d="M687.6 386.8 L695.2 393.8 L695.2 395.6 L690.7 395.6 L690.7 403.3 L684.5 403.3 L684.5 395.6 L680.0 395.6 L680.0 393.8 Z" fill="#FF0000"/>
<path d="M1118.1 420.0 L1125.7 427.0 L1125.7 428.8 L1121.2 428.8 L1121.2 436.5 L1115.0 436.5 L1115.0 428.8 L1110.5 428.8 L1110.5 427.0 Z" fill="#FF0000"/>
<path d="M1290.2 451.0 L1297.8 458.0 L1297.8 459.8 L1293.3 459.8 L1293.3 467.5 L1287.1 467.5 L1287.1 459.8 L1282.6 459.8 L1282.6 458.0 Z" fill="#FF0000"/>
<path d="M1366.5 465.8 L1374.1 472.8 L1374.1 474.6 L1369.6 474.6 L1369.6 482.3 L1363.4 482.3 L1363.4 474.6 L1358.9 474.6 L1358.9 472.8 Z" fill="#FF0000"/>
<path d="M254.4 151.7 L259.6 151.7 L259.6 159.5 L264.2 159.5 L257.0 167.1 L249.8 159.5 L254.4 159.5 Z" fill="none" stroke="#00E000" stroke-width="1.3"/>
<path d="M320.0 141.6 L325.2 141.6 L325.2 149.4 L329.8 149.4 L322.6 157.0 L315.4 149.4 L320.0 149.4 Z" fill="none" stroke="#00E000" stroke-width="1.3"/>
<path d="M981.6 356.2 L986.8 356.2 L986.8 364.0 L991.4 364.0 L984.2 371.6 L977.0 364.0 L981.6 364.0 Z" fill="none" stroke="#00E000" stroke-width="1.3"/>
<path d="M1048.9 321.2 L1054.1 321.2 L1054.1 329.0 L1058.7 329.0 L1051.5 336.6 L1044.3 329.0 L1048.9 329.0 Z" fill="none" stroke="#00E000" stroke-width="1.3"/>
<path d="M1029.3 243.9 L1035.6 243.9 L1035.6 252 L1040.1 252 L1032.4 261 L1024.8 252 L1029.3 252 Z" fill="#00FF00"/>
<line x1="3" y1="322.9" x2="1468" y2="322.9" stroke="#0000EE" stroke-width="2"/>
<line x1="3" y1="382.8" x2="1468" y2="382.8" stroke="#0000EE" stroke-width="2"/>
<line x1="3" y1="423.1" x2="1468" y2="423.1" stroke="#0000EE" stroke-width="2"/>
<line x1="1236" y1="413" x2="1467.5" y2="413" stroke="#9A9A9A" stroke-width="1.5"/>
<line x1="38.2" y1="36.9" x2="1201.3" y2="519.2" stroke="#0000EE" stroke-width="1.5"/>
<line x1="3" y1="219.2" x2="726.1" y2="519.5" stroke="#0000EE" stroke-width="1.5"/>
<line x1="509.2" y1="37.5" x2="1467.5" y2="434.2" stroke="#0000EE" stroke-width="1.5"/>
<text x="28.3" y="104.2" fill="#D4D4D4" font-size="18.5" stroke="#000" stroke-width="0.4" textLength="65.7" lengthAdjust="spacingAndGlyphs">1727.49</text>
<line x1="852" y1="510.3" x2="867.5" y2="510.3" stroke="#D4D4D4" stroke-width="1.3"/>
<path d="M851 510.3 L855.5 507.5 M851 510.3 L855.5 513" stroke="#D4D4D4" stroke-width="1.2" fill="none"/>
<text x="870.0" y="519.0" fill="#D4D4D4" font-size="18.5" stroke="#000" stroke-width="0.4" textLength="63.3" lengthAdjust="spacingAndGlyphs">1184.91</text>
<path d="M851.2 512.3 L857.2 519 L845.2 519 Z" fill="#FF0000"/>
<text x="1239.7" y="406.6" fill="#D4D4D4" font-size="18.5" stroke="#000" stroke-width="0.4" textLength="147.6" lengthAdjust="spacingAndGlyphs">1309.44 - 1307.90</text>
<path d="M3.5 21.5 L8.5 15.5 L13.5 21.5 M5.5 23.5 L11.5 23.5 L11.5 27.5 L5.5 27.5 M5.5 23.5 L5.5 32.5 L13.5 32.5 L13.5 30.5 M15.5 18.5 L15.5 29.5 M19.5 15.5 L19.5 32.5 L17.5 32.5 M27.5 15.5 L27.5 32.5 M32.5 15.5 L32.5 32.5 M22.5 21.5 L25.5 27.5 M38.5 21.5 L35.5 27.5 M21.5 32.5 L38.5 32.5 M40.5 20.5 L46.5 20.5 M43.5 15.5 L43.5 32.5 M43.5 21.5 L40.5 28.5 M43.5 22.5 L46.5 25.5 M48.5 17.5 L56.5 15.5 M48.5 17.5 L48.5 26.5 L47.5 32.5 M48.5 22.5 L55.5 22.5 L51.5 29.5 L49.5 32.5 M50.5 24.5 L56.5 32.5 M58.5 20.5 L64.5 20.5 M61.5 15.5 L61.5 32.5 L60.5 32.5 M58.5 27.5 L64.5 24.5 M66.5 15.5 L66.5 21.5 L74.5 21.5 L74.5 20.5 M73.5 16.5 L67.5 19.5 M66.5 23.5 L74.5 23.5 L74.5 32.5 L66.5 32.5 L66.5 23.5 M66.5 28.5 L74.5 28.5 M81.5 16.5 Q75.5 24.5 81.5 32.5 M84.5 16.5 L96.5 16.5 L96.5 32.5 L84.5 32.5 L84.5 16.5 M84.5 24.5 L96.5 24.5 M103.5 15.5 L100.5 20.5 L104.5 20.5 L100.5 25.5 L105.5 24.5 M100.5 30.5 L105.5 28.5 M107.5 20.5 L115.5 19.5 M107.5 25.5 L116.5 23.5 M110.5 15.5 L111.5 26.5 L116.5 32.5 M114.5 26.5 L109.5 32.5 M113.5 16.5 L114.5 17.5 M119.5 29.5 L120.5 29.5 M127.5 15.5 L128.5 18.5 M134.5 15.5 L133.5 18.5 M122.5 19.5 L139.5 19.5 M124.5 22.5 L130.5 22.5 L130.5 32.5 L129.5 32.5 M124.5 22.5 L124.5 32.5 M124.5 26.5 L130.5 26.5 M124.5 29.5 L130.5 29.5 M133.5 23.5 L133.5 30.5 M137.5 22.5 L137.5 32.5 L136.5 32.5 M143.5 15.5 L140.5 19.5 M143.5 17.5 L156.5 17.5 M143.5 19.5 L153.5 19.5 L153.5 25.5 L143.5 25.5 L143.5 19.5 M143.5 22.5 L153.5 22.5 M145.5 26.5 L142.5 29.5 M144.5 27.5 L154.5 27.5 L143.5 32.5 M147.5 29.5 L156.5 32.5 M158.5 20.5 L164.5 20.5 M161.5 15.5 L161.5 32.5 M161.5 21.5 L158.5 28.5 M161.5 22.5 L164.5 25.5 M166.5 17.5 L173.5 17.5 L170.5 27.5 L166.5 32.5 M167.5 20.5 L174.5 32.5 M176.5 16.5 Q182.5 24.5 176.5 32.5" fill="none" stroke="#D8D8D8" stroke-width="1.15"/>
<path d="M198.5 15.2 L206.1 22.2 L206.1 24.0 L201.6 24.0 L201.6 31.7 L195.4 31.7 L195.4 24.0 L190.9 24.0 L190.9 22.2 Z" fill="#FF0000"/>
<text x="211.9" y="29.6" fill="#ECECEC" font-size="18.5" stroke="#000" stroke-width="0.4" textLength="108.0" lengthAdjust="spacingAndGlyphs">MA5: 1260.02</text>
<text x="330.2" y="29.6" fill="#FFFF00" font-size="18.5" stroke="#000" stroke-width="0.4" textLength="119.6" lengthAdjust="spacingAndGlyphs">MA10: 1255.39</text>
<text x="458.5" y="29.6" fill="#FF00FF" font-size="18.5" stroke="#000" stroke-width="0.4" textLength="120.7" lengthAdjust="spacingAndGlyphs">MA20: 1260.69</text>
<text x="587.5" y="29.6" fill="#00FF00" font-size="18.5" stroke="#000" stroke-width="0.4" textLength="130.2" lengthAdjust="spacingAndGlyphs">MA250: 1564.42</text>
<path d="M1435.3 16.4 L1443.3 24.3 L1435.3 32.2 L1427.3 24.3 Z" fill="none" stroke="#A80000" stroke-width="1.2"/>
<rect x="1450.2" y="16.8" width="13.8" height="15.2" fill="none" stroke="#A80000" stroke-width="1.3"/>
<line x1="1460" y1="16.8" x2="1460" y2="32" stroke="#A80000" stroke-width="1.3"/>
<path d="M3.6 479.7 L11.2 487 L3.6 494.3 Z" fill="#E8A000"/>
<rect x="3.30" y="643.10" width="7.5" height="67.90" fill="#54FFFF"/>
<rect x="12.88" y="650.40" width="7.5" height="60.60" fill="#54FFFF"/>
<rect x="22.45" y="645.20" width="7.5" height="65.80" fill="#FF3434"/>
<rect x="32.03" y="646.60" width="7.5" height="64.40" fill="#54FFFF"/>
<rect x="41.61" y="652.20" width="7.5" height="58.80" fill="#54FFFF"/>
<rect x="51.18" y="638.60" width="7.5" height="72.40" fill="#54FFFF"/>
<rect x="60.76" y="625.20" width="7.5" height="85.80" fill="#54FFFF"/>
<rect x="70.34" y="631.00" width="7.5" height="80.00" fill="#FF3434"/>
<rect x="79.92" y="632.70" width="7.5" height="78.30" fill="#54FFFF"/>
<rect x="89.49" y="640.30" width="7.5" height="70.70" fill="#FF3434"/>
<rect x="99.07" y="644.50" width="7.5" height="66.50" fill="#54FFFF"/>
<rect x="108.65" y="634.40" width="7.5" height="76.60" fill="#FF3434"/>
<rect x="118.22" y="634.40" width="7.5" height="76.60" fill="#54FFFF"/>
<rect x="127.80" y="638.60" width="7.5" height="72.40" fill="#54FFFF"/>
<rect x="137.38" y="622.10" width="7.5" height="88.90" fill="#FF3434"/>
<rect x="146.96" y="623.60" width="7.5" height="87.40" fill="#54FFFF"/>
<rect x="156.53" y="616.40" width="7.5" height="94.60" fill="#FF3434"/>
<rect x="166.11" y="629.70" width="7.5" height="81.30" fill="#54FFFF"/>
<rect x="175.69" y="637.30" width="7.5" height="73.70" fill="#54FFFF"/>
<rect x="185.26" y="623.90" width="7.5" height="87.10" fill="#FF3434"/>
<rect x="194.84" y="635.80" width="7.5" height="75.20" fill="#FF3434"/>
<rect x="204.42" y="634.20" width="7.5" height="76.80" fill="#FF3434"/>
<rect x="213.99" y="620.60" width="7.5" height="90.40" fill="#FF3434"/>
<rect x="223.57" y="601.20" width="7.5" height="109.80" fill="#FF3434"/>
<rect x="233.15" y="611.50" width="7.5" height="99.50" fill="#FF3434"/>
<rect x="242.73" y="620.60" width="7.5" height="90.40" fill="#FF3434"/>
<rect x="252.30" y="624.70" width="7.5" height="86.30" fill="#FF3434"/>
<rect x="261.88" y="619.10" width="7.5" height="91.90" fill="#54FFFF"/>
<rect x="271.46" y="629.70" width="7.5" height="81.30" fill="#54FFFF"/>
<rect x="281.03" y="631.20" width="7.5" height="79.80" fill="#FF3434"/>
<rect x="290.61" y="617.60" width="7.5" height="93.40" fill="#FF3434"/>
<rect x="300.19" y="610.30" width="7.5" height="100.70" fill="#FF3434"/>
<rect x="309.76" y="614.80" width="7.5" height="96.20" fill="#FF3434"/>
<rect x="319.34" y="607.30" width="7.5" height="103.70" fill="#54FFFF"/>
<rect x="328.92" y="625.20" width="7.5" height="85.80" fill="#54FFFF"/>
<rect x="338.50" y="632.70" width="7.5" height="78.30" fill="#54FFFF"/>
<rect x="348.07" y="645.90" width="7.5" height="65.10" fill="#FF3434"/>
<rect x="357.65" y="638.80" width="7.5" height="72.20" fill="#54FFFF"/>
<rect x="367.23" y="623.90" width="7.5" height="87.10" fill="#54FFFF"/>
<rect x="376.80" y="650.90" width="7.5" height="60.10" fill="#54FFFF"/>
<rect x="386.38" y="647.90" width="7.5" height="63.10" fill="#54FFFF"/>
<rect x="395.96" y="642.90" width="7.5" height="68.10" fill="#FF3434"/>
<rect x="405.53" y="642.10" width="7.5" height="68.90" fill="#54FFFF"/>
<rect x="415.11" y="626.70" width="7.5" height="84.30" fill="#FF3434"/>
<rect x="424.69" y="640.90" width="7.5" height="70.10" fill="#FF3434"/>
<rect x="434.26" y="640.90" width="7.5" height="70.10" fill="#FF3434"/>
<rect x="443.84" y="644.80" width="7.5" height="66.20" fill="#54FFFF"/>
<rect x="453.42" y="640.60" width="7.5" height="70.40" fill="#54FFFF"/>
<rect x="463.00" y="642.90" width="7.5" height="68.10" fill="#FF3434"/>
<rect x="472.57" y="645.90" width="7.5" height="65.10" fill="#54FFFF"/>
<rect x="482.15" y="645.90" width="7.5" height="65.10" fill="#FF3434"/>
<rect x="491.73" y="646.40" width="7.5" height="64.60" fill="#FF3434"/>
<rect x="501.30" y="645.90" width="7.5" height="65.10" fill="#54FFFF"/>
<rect x="510.88" y="647.40" width="7.5" height="63.60" fill="#FF3434"/>
<rect x="520.46" y="652.00" width="7.5" height="59.00" fill="#54FFFF"/>
<rect x="530.03" y="637.30" width="7.5" height="73.70" fill="#FF3434"/>
<rect x="539.61" y="643.30" width="7.5" height="67.70" fill="#54FFFF"/>
<rect x="549.19" y="648.90" width="7.5" height="62.10" fill="#54FFFF"/>
<rect x="558.77" y="647.40" width="7.5" height="63.60" fill="#54FFFF"/>
<rect x="568.34" y="652.00" width="7.5" height="59.00" fill="#54FFFF"/>
<rect x="577.92" y="648.90" width="7.5" height="62.10" fill="#FF3434"/>
<rect x="587.50" y="637.30" width="7.5" height="73.70" fill="#FF3434"/>
<rect x="597.07" y="637.30" width="7.5" height="73.70" fill="#54FFFF"/>
<rect x="606.65" y="640.30" width="7.5" height="70.70" fill="#54FFFF"/>
<rect x="616.23" y="634.20" width="7.5" height="76.80" fill="#54FFFF"/>
<rect x="625.80" y="641.80" width="7.5" height="69.20" fill="#54FFFF"/>
<rect x="635.38" y="649.40" width="7.5" height="61.60" fill="#FF3434"/>
<rect x="644.96" y="650.90" width="7.5" height="60.10" fill="#54FFFF"/>
<rect x="654.54" y="640.30" width="7.5" height="70.70" fill="#54FFFF"/>
<rect x="664.11" y="637.30" width="7.5" height="73.70" fill="#54FFFF"/>
<rect x="673.69" y="647.90" width="7.5" height="63.10" fill="#54FFFF"/>
<rect x="683.27" y="643.60" width="7.5" height="67.40" fill="#FF3434"/>
<rect x="692.84" y="628.50" width="7.5" height="82.50" fill="#FF3434"/>
<rect x="702.42" y="639.80" width="7.5" height="71.20" fill="#54FFFF"/>
<rect x="712.00" y="634.20" width="7.5" height="76.80" fill="#FF3434"/>
<rect x="721.57" y="653.90" width="7.5" height="57.10" fill="#FF3434"/>
<rect x="731.15" y="637.60" width="7.5" height="73.40" fill="#FF3434"/>
<rect x="740.73" y="629.70" width="7.5" height="81.30" fill="#54FFFF"/>
<rect x="750.31" y="645.90" width="7.5" height="65.10" fill="#FF3434"/>
<rect x="759.88" y="647.90" width="7.5" height="63.10" fill="#54FFFF"/>
<rect x="769.46" y="656.50" width="7.5" height="54.50" fill="#54FFFF"/>
<rect x="779.04" y="653.90" width="7.5" height="57.10" fill="#54FFFF"/>
<rect x="788.61" y="620.60" width="7.5" height="90.40" fill="#54FFFF"/>
<rect x="798.19" y="628.20" width="7.5" height="82.80" fill="#FF3434"/>
<rect x="807.77" y="646.40" width="7.5" height="64.60" fill="#54FFFF"/>
<rect x="817.34" y="640.30" width="7.5" height="70.70" fill="#54FFFF"/>
<rect x="826.92" y="633.00" width="7.5" height="78.00" fill="#FF3434"/>
<rect x="836.50" y="636.10" width="7.5" height="74.90" fill="#54FFFF"/>
<rect x="846.08" y="628.20" width="7.5" height="82.80" fill="#FF3434"/>
<rect x="855.65" y="599.70" width="7.5" height="111.30" fill="#FF3434"/>
<rect x="865.23" y="617.60" width="7.5" height="93.40" fill="#54FFFF"/>
<rect x="874.81" y="634.20" width="7.5" height="76.80" fill="#54FFFF"/>
<rect x="884.38" y="632.70" width="7.5" height="78.30" fill="#FF3434"/>
<rect x="893.96" y="640.30" width="7.5" height="70.70" fill="#54FFFF"/>
<rect x="903.54" y="649.00" width="7.5" height="62.00" fill="#54FFFF"/>
<rect x="913.11" y="638.30" width="7.5" height="72.70" fill="#FF3434"/>
<rect x="922.69" y="635.70" width="7.5" height="75.30" fill="#FF3434"/>
<rect x="932.27" y="611.80" width="7.5" height="99.20" fill="#54FFFF"/>
<rect x="941.85" y="596.90" width="7.5" height="114.10" fill="#FF3434"/>
<rect x="951.42" y="598.30" width="7.5" height="112.70" fill="#FF3434"/>
<rect x="961.00" y="627.50" width="7.5" height="83.50" fill="#FF3434"/>
<rect x="970.58" y="613.00" width="7.5" height="98.00" fill="#54FFFF"/>
<rect x="980.15" y="626.40" width="7.5" height="84.60" fill="#54FFFF"/>
<rect x="989.73" y="638.60" width="7.5" height="72.40" fill="#FF3434"/>
<rect x="999.31" y="607.00" width="7.5" height="104.00" fill="#FF3434"/>
<rect x="1008.88" y="566.60" width="7.5" height="144.40" fill="#FF3434"/>
<rect x="1018.46" y="587.50" width="7.5" height="123.50" fill="#54FFFF"/>
<rect x="1028.04" y="597.90" width="7.5" height="113.10" fill="#FF3434"/>
<rect x="1037.62" y="591.70" width="7.5" height="119.30" fill="#54FFFF"/>
<rect x="1047.19" y="606.60" width="7.5" height="104.40" fill="#54FFFF"/>
<rect x="1056.77" y="605.60" width="7.5" height="105.40" fill="#54FFFF"/>
<rect x="1066.35" y="616.00" width="7.5" height="95.00" fill="#FF3434"/>
<rect x="1075.92" y="625.20" width="7.5" height="85.80" fill="#54FFFF"/>
<rect x="1085.50" y="603.80" width="7.5" height="107.20" fill="#54FFFF"/>
<rect x="1095.08" y="640.00" width="7.5" height="71.00" fill="#54FFFF"/>
<rect x="1104.65" y="635.70" width="7.5" height="75.30" fill="#FF3434"/>
<rect x="1114.23" y="619.10" width="7.5" height="91.90" fill="#FF3434"/>
<rect x="1123.81" y="619.10" width="7.5" height="91.90" fill="#54FFFF"/>
<rect x="1133.39" y="631.00" width="7.5" height="80.00" fill="#FF3434"/>
<rect x="1142.96" y="601.40" width="7.5" height="109.60" fill="#FF3434"/>
<rect x="1152.54" y="616.50" width="7.5" height="94.50" fill="#FF3434"/>
<rect x="1162.12" y="611.80" width="7.5" height="99.20" fill="#FF3434"/>
<rect x="1171.69" y="615.70" width="7.5" height="95.30" fill="#54FFFF"/>
<rect x="1181.27" y="631.00" width="7.5" height="80.00" fill="#54FFFF"/>
<rect x="1190.85" y="635.70" width="7.5" height="75.30" fill="#54FFFF"/>
<rect x="1200.42" y="638.60" width="7.5" height="72.40" fill="#FF3434"/>
<rect x="1210.00" y="635.70" width="7.5" height="75.30" fill="#54FFFF"/>
<rect x="1219.58" y="624.70" width="7.5" height="86.30" fill="#FF3434"/>
<rect x="1229.16" y="624.00" width="7.5" height="87.00" fill="#54FFFF"/>
<rect x="1238.73" y="640.30" width="7.5" height="70.70" fill="#54FFFF"/>
<rect x="1248.31" y="643.10" width="7.5" height="67.90" fill="#FF3434"/>
<rect x="1257.89" y="646.10" width="7.5" height="64.90" fill="#54FFFF"/>
<rect x="1267.46" y="646.10" width="7.5" height="64.90" fill="#FF3434"/>
<rect x="1277.04" y="645.60" width="7.5" height="65.40" fill="#54FFFF"/>
<rect x="1286.62" y="647.00" width="7.5" height="64.00" fill="#FF3434"/>
<rect x="1296.19" y="622.30" width="7.5" height="88.70" fill="#FF3434"/>
<rect x="1305.77" y="635.70" width="7.5" height="75.30" fill="#54FFFF"/>
<rect x="1315.35" y="629.60" width="7.5" height="81.40" fill="#54FFFF"/>
<rect x="1324.93" y="638.60" width="7.5" height="72.40" fill="#FF3434"/>
<rect x="1334.50" y="647.80" width="7.5" height="63.20" fill="#54FFFF"/>
<rect x="1344.08" y="632.70" width="7.5" height="78.30" fill="#54FFFF"/>
<rect x="1353.66" y="614.80" width="7.5" height="96.20" fill="#FF3434"/>
<rect x="1363.23" y="605.60" width="7.5" height="105.40" fill="#FF3434"/>
<rect x="1372.81" y="611.70" width="7.5" height="99.30" fill="#FF3434"/>
<rect x="1382.39" y="599.70" width="7.5" height="111.30" fill="#54FFFF"/>
<rect x="1391.96" y="611.70" width="7.5" height="99.30" fill="#54FFFF"/>
<rect x="1401.54" y="614.80" width="7.5" height="96.20" fill="#FF3434"/>
<rect x="1411.12" y="616.00" width="7.5" height="95.00" fill="#54FFFF"/>
<rect x="1420.70" y="615.30" width="7.5" height="95.70" fill="#FF3434"/>
<rect x="1430.27" y="619.10" width="7.5" height="91.90" fill="#FF3434"/>
<polyline points="7.0,637.4 16.6,639.0 26.2,641.0 35.8,644.4 45.4,645.2 54.9,645.2 64.5,643.2 74.1,641.6 83.7,641.0 93.2,640.5 102.8,640.7 112.4,639.1 122.0,638.0 131.6,637.2 141.1,634.2 150.7,632.7 160.3,631.8 169.9,631.7 179.4,632.1 189.0,630.5 198.6,629.6 208.2,629.6 217.7,628.2 227.3,624.5 236.9,623.4 246.5,623.1 256.1,624.0 265.6,622.9 275.2,622.1 284.8,622.9 294.4,621.0 303.9,618.6 313.5,618.1 323.1,618.7 332.7,620.0 342.2,621.3 351.8,623.4 361.4,625.4 371.0,624.8 380.6,626.7 390.1,629.8 399.7,633.0 409.3,635.8 418.9,637.7 428.4,639.3 438.0,640.1 447.6,640.0 457.2,640.2 466.7,642.1 476.3,641.6 485.9,641.4 495.5,641.7 505.1,642.1 514.6,644.2 524.2,645.3 533.8,644.9 543.4,644.8 552.9,645.6 562.5,646.0 572.1,646.6 581.7,646.9 591.2,646.0 600.8,645.2 610.4,644.5 620.0,642.7 629.6,643.1 639.1,643.8 648.7,643.9 658.3,643.2 667.9,641.8 677.4,641.7 687.0,642.3 696.6,641.4 706.2,641.4 715.7,641.4 725.3,642.6 734.9,641.4 744.5,639.3 754.1,639.8 763.6,640.9 773.2,641.8 782.8,642.8 792.4,642.0 801.9,640.8 811.5,642.1 821.1,640.7 830.7,640.2 840.2,640.9 849.8,639.1 859.4,634.3 869.0,630.4 878.6,628.4 888.1,629.6 897.7,630.9 907.3,631.1 916.9,630.9 926.4,631.2 936.0,628.8 945.6,625.6 955.2,625.5 964.8,626.5 974.3,624.4 983.9,623.7 993.5,623.5 1003.1,619.4 1012.6,612.2 1022.2,607.4 1031.8,606.0 1041.4,605.5 1050.9,606.3 1060.5,604.1 1070.1,604.4 1079.7,604.3 1089.3,600.8 1098.8,604.1 1108.4,611.0 1118.0,614.2 1127.6,616.3 1137.1,620.2 1146.7,619.7 1156.3,620.8 1165.9,620.4 1175.4,619.4 1185.0,622.1 1194.6,621.7 1204.2,622.0 1213.8,623.6 1223.3,624.2 1232.9,623.5 1242.5,627.4 1252.1,630.1 1261.6,633.5 1271.2,636.5 1280.8,638.0 1290.4,639.1 1299.9,637.5 1309.5,637.5 1319.1,638.0 1328.7,639.4 1338.3,640.2 1347.8,639.1 1357.4,636.0 1367.0,632.0 1376.6,628.6 1386.1,623.9 1395.7,622.8 1405.3,620.7 1414.9,619.3 1424.4,617.0 1434.0,614.1" fill="none" stroke="#FFFF00" stroke-width="1.3" stroke-linejoin="round" />
<polyline points="7.0,642.6 16.6,644.3 26.2,645.2 35.8,647.0 45.4,647.5 54.9,646.6 64.5,641.6 74.1,638.7 83.7,635.9 93.2,633.6 102.8,634.7 112.4,636.6 122.0,637.3 131.6,638.4 141.1,634.8 150.7,630.6 160.3,627.0 169.9,626.1 179.4,625.8 189.0,626.2 198.6,628.6 208.2,632.2 217.7,630.4 227.3,623.1 236.9,620.7 246.5,617.6 256.1,615.7 265.6,615.4 275.2,621.1 284.8,625.1 294.4,624.5 303.9,621.6 313.5,620.7 323.1,616.2 332.7,615.0 342.2,618.1 351.8,625.2 361.4,630.0 371.0,633.3 380.6,638.4 390.1,641.5 399.7,640.9 409.3,641.5 418.9,642.1 428.4,640.1 438.0,638.7 447.6,639.1 457.2,638.8 466.7,642.0 476.3,643.0 485.9,644.0 495.5,644.3 505.1,645.4 514.6,646.3 524.2,647.5 533.8,645.8 543.4,645.2 552.9,645.8 562.5,645.8 572.1,645.8 581.7,648.1 591.2,646.9 600.8,644.6 610.4,643.2 620.0,639.6 629.6,638.2 639.1,640.6 648.7,643.3 658.3,643.3 667.9,643.9 677.4,645.2 687.0,644.0 696.6,639.5 706.2,639.4 715.7,638.8 725.3,640.0 734.9,638.8 744.5,639.0 754.1,640.3 763.6,643.0 773.2,643.5 782.8,646.8 792.4,645.0 801.9,641.4 811.5,641.1 821.1,637.9 830.7,633.7 840.2,636.8 849.8,636.8 859.4,627.5 869.0,622.9 878.6,623.2 888.1,622.5 897.7,624.9 907.3,634.8 916.9,638.9 926.4,639.2 936.0,635.0 945.6,626.3 955.2,616.2 964.8,614.0 974.3,609.5 983.9,612.4 993.5,620.8 1003.1,622.5 1012.6,610.3 1022.2,605.2 1031.8,599.5 1041.4,590.1 1050.9,590.1 1060.5,597.9 1070.1,603.6 1079.7,609.0 1089.3,611.4 1098.8,618.1 1108.4,624.1 1118.0,624.8 1127.6,623.5 1137.1,629.0 1146.7,621.3 1156.3,617.4 1165.9,616.0 1175.4,615.3 1185.0,615.3 1194.6,622.1 1204.2,626.6 1213.8,631.3 1223.3,633.1 1232.9,631.7 1242.5,632.7 1252.1,633.6 1261.6,635.6 1271.2,639.9 1280.8,644.2 1290.4,645.6 1299.9,641.4 1309.5,639.3 1319.1,636.0 1328.7,634.6 1338.3,634.8 1347.8,636.9 1357.4,632.7 1367.0,627.9 1376.6,622.5 1386.1,612.9 1395.7,608.7 1405.3,608.7 1414.9,610.8 1424.4,611.5 1434.0,615.4" fill="none" stroke="#E4E4E4" stroke-width="1.3" stroke-linejoin="round" />
<text x="1.8" y="556.6" fill="#D4D4D4" font-size="18.5" stroke="#000" stroke-width="0.4" textLength="191.0" lengthAdjust="spacingAndGlyphs">VOLUME: 55111236.00</text>
<text x="202.0" y="556.6" fill="#E4E4E4" font-size="18.5" stroke="#000" stroke-width="0.4" textLength="151.0" lengthAdjust="spacingAndGlyphs">MA5: 57540700.00</text>
<text x="362.0" y="556.6" fill="#FFFF00" font-size="18.5" stroke="#000" stroke-width="0.4" textLength="162.0" lengthAdjust="spacingAndGlyphs">MA10: 58309500.00</text>
<polyline points="7.0,841.3 16.6,843.1 26.2,840.8 35.8,841.5 45.4,843.9 54.9,846.9 64.5,849.6 74.1,850.6 83.7,852.8 93.2,852.6 102.8,852.1 112.4,850.0 122.0,848.3 131.6,847.0 141.1,838.2 150.7,828.1 160.3,816.4 169.9,809.9 179.4,811.1 189.0,814.6 198.6,813.7 208.2,809.5 217.7,807.9 227.3,802.0 236.9,795.0 246.5,788.5 256.1,782.4 265.6,779.3 275.2,781.3 284.8,782.8 294.4,782.4 303.9,781.0 313.5,779.9 323.1,783.8 332.7,791.6 342.2,802.5 351.8,813.0 361.4,823.6 371.0,831.1 380.6,838.4 390.1,844.3 399.7,846.7 409.3,849.0 418.9,847.1 428.4,841.9 438.0,834.2 447.6,824.4 457.2,819.2 466.7,818.6 476.3,823.4 485.9,827.2 495.5,828.2 505.1,829.4 514.6,829.1 524.2,828.7 533.8,823.1 543.4,813.9 552.9,805.8 562.5,801.7 572.1,806.5 581.7,811.4 591.2,813.7 600.8,818.6 610.4,825.2 620.0,831.2 629.6,837.8 639.1,842.4 648.7,846.5 658.3,847.6 667.9,850.1 677.4,852.6 687.0,851.3 696.6,847.2 706.2,841.0 715.7,829.1 725.3,817.3 734.9,806.5 744.5,800.4 754.1,795.7 763.6,800.9 773.2,809.5 782.8,817.8 792.4,826.4 801.9,832.4 811.5,837.6 821.1,842.7 830.7,845.9 840.2,849.4 849.8,848.5 859.4,841.0 869.0,831.1 878.6,822.3 888.1,815.7 897.7,811.7 907.3,810.4 916.9,809.6 926.4,807.8 936.0,806.0 945.6,799.5 955.2,793.6 964.8,788.6 974.3,784.9 983.9,783.4 993.5,783.8 1003.1,781.1 1012.6,778.1 1022.2,776.6 1031.8,773.6 1041.4,771.6 1050.9,771.4 1060.5,777.3 1070.1,784.0 1079.7,792.1 1089.3,803.8 1098.8,815.0 1108.4,823.6 1118.0,827.5 1127.6,831.7 1137.1,832.7 1146.7,825.8 1156.3,815.3 1165.9,805.2 1175.4,801.1 1185.0,801.3 1194.6,805.4 1204.2,809.4 1213.8,812.5 1223.3,815.7 1232.9,822.8 1242.5,829.1 1252.1,834.8 1261.6,840.2 1271.2,843.8 1280.8,846.7 1290.4,846.9 1299.9,846.1 1309.5,845.6 1319.1,847.1 1328.7,847.4 1338.3,849.4 1347.8,851.8 1357.4,848.2 1367.0,838.7 1376.6,828.4 1386.1,819.0 1395.7,811.9 1405.3,805.7 1414.9,803.0 1424.4,799.3 1434.0,795.3" fill="none" stroke="#FFFF00" stroke-width="1.25" stroke-linejoin="round" />
<polyline points="7.0,840.2 16.6,846.8 26.2,836.1 35.8,842.8 45.4,848.9 54.9,852.8 64.5,855.1 74.1,852.5 83.7,857.1 93.2,852.3 102.8,851.1 112.4,845.7 122.0,845.0 131.6,844.3 141.1,820.6 150.7,807.9 160.3,792.9 169.9,797.0 179.4,813.5 189.0,821.6 198.6,811.8 208.2,801.0 217.7,804.8 227.3,790.3 236.9,781.0 246.5,775.6 256.1,770.0 265.6,773.3 275.2,785.1 284.8,785.8 294.4,781.5 303.9,778.2 313.5,777.6 323.1,791.7 332.7,807.1 342.2,824.2 351.8,834.1 361.4,844.8 371.0,846.1 380.6,852.8 390.1,856.3 399.7,851.5 409.3,853.6 418.9,843.3 428.4,831.6 438.0,818.7 447.6,804.9 457.2,808.9 466.7,817.4 476.3,833.1 485.9,834.8 495.5,830.1 505.1,831.7 514.6,828.6 524.2,828.0 533.8,811.9 543.4,795.6 552.9,789.6 562.5,793.4 572.1,816.3 581.7,821.0 591.2,818.3 600.8,828.3 610.4,838.3 620.0,843.3 629.6,851.0 639.1,851.8 648.7,854.6 658.3,849.8 667.9,855.3 677.4,857.6 687.0,848.7 696.6,839.0 706.2,828.6 715.7,805.2 725.3,793.7 734.9,785.0 744.5,788.2 754.1,786.3 763.6,811.2 773.2,826.9 782.8,834.2 792.4,843.6 801.9,844.4 811.5,848.1 821.1,852.8 830.7,852.3 840.2,856.6 849.8,846.7 859.4,825.9 869.0,811.5 878.6,804.6 888.1,802.4 897.7,803.6 907.3,807.8 916.9,808.0 926.4,804.4 936.0,802.2 945.6,786.5 955.2,781.8 964.8,778.7 974.3,777.4 983.9,780.5 993.5,784.5 1003.1,775.8 1012.6,772.1 1022.2,773.7 1031.8,767.4 1041.4,767.6 1050.9,771.2 1060.5,789.1 1070.1,797.4 1079.7,808.2 1089.3,827.1 1098.8,837.6 1108.4,840.8 1118.0,835.3 1127.6,840.1 1137.1,834.8 1146.7,812.1 1156.3,794.2 1165.9,784.9 1175.4,792.9 1185.0,801.6 1194.6,813.7 1204.2,817.4 1213.8,818.7 1223.3,822.1 1232.9,836.9 1242.5,841.9 1252.1,846.1 1261.6,851.1 1271.2,851.1 1280.8,852.3 1290.4,847.5 1299.9,844.3 1309.5,844.6 1319.1,850.1 1328.7,847.9 1338.3,853.5 1347.8,856.6 1357.4,840.9 1367.0,819.8 1376.6,807.6 1386.1,800.4 1395.7,797.5 1405.3,793.5 1414.9,797.5 1424.4,791.8 1434.0,787.2" fill="none" stroke="#E4E4E4" stroke-width="1.25" stroke-linejoin="round" />
<polyline points="7.0,838.1 16.6,854.2 26.2,826.8 35.8,845.4 45.4,858.8 54.9,864.6 64.5,866.0 74.1,856.4 83.7,865.8 93.2,851.8 102.8,849.1 112.4,837.2 122.0,838.3 131.6,839.1 141.1,785.4 150.7,767.4 160.3,746.0 169.9,771.3 179.4,818.4 189.0,835.5 198.6,808.1 208.2,784.2 217.7,798.5 227.3,766.8 236.9,752.9 246.5,749.7 256.1,745.4 265.6,761.1 275.2,792.9 284.8,792.0 294.4,779.8 303.9,772.7 313.5,773.1 323.1,807.6 332.7,838.2 342.2,867.7 351.8,876.3 361.4,887.3 371.0,876.1 380.6,881.8 390.1,880.2 399.7,860.9 409.3,862.8 418.9,835.6 428.4,811.0 438.0,787.7 447.6,765.8 457.2,788.1 466.7,815.0 476.3,852.3 485.9,850.0 495.5,834.0 505.1,836.4 514.6,827.5 524.2,826.6 533.8,789.4 543.4,758.9 552.9,757.1 562.5,776.8 572.1,835.8 581.7,840.3 591.2,827.6 600.8,847.9 610.4,864.7 620.0,867.4 629.6,877.3 639.1,870.4 648.7,870.7 658.3,854.1 667.9,865.5 677.4,867.6 687.0,843.6 696.6,822.6 706.2,803.8 715.7,757.5 725.3,746.4 734.9,741.9 744.5,763.9 754.1,767.4 763.6,831.8 773.2,861.6 782.8,867.2 792.4,878.0 801.9,868.4 811.5,869.0 821.1,873.0 830.7,865.3 840.2,870.8 849.8,843.0 859.4,795.7 869.0,772.2 878.6,769.3 888.1,776.0 897.7,787.5 907.3,802.7 916.9,804.8 926.4,797.4 936.0,794.7 945.6,760.5 955.2,758.3 964.8,758.9 974.3,762.5 983.9,774.6 993.5,785.9 1003.1,765.3 1012.6,760.0 1022.2,767.7 1031.8,755.2 1041.4,759.7 1050.9,770.6 1060.5,812.6 1070.1,824.1 1079.7,840.6 1089.3,873.8 1098.8,882.7 1108.4,875.2 1118.0,850.8 1127.6,856.8 1137.1,838.9 1146.7,784.5 1156.3,752.0 1165.9,744.4 1175.4,776.6 1185.0,802.3 1194.6,830.4 1204.2,833.3 1213.8,831.1 1223.3,835.0 1232.9,865.1 1242.5,867.3 1252.1,868.6 1261.6,872.8 1271.2,865.5 1280.8,863.7 1290.4,848.6 1299.9,840.8 1309.5,842.7 1319.1,856.2 1328.7,849.0 1338.3,861.6 1347.8,866.2 1357.4,826.4 1367.0,781.9 1376.6,766.2 1386.1,763.1 1395.7,768.8 1405.3,769.0 1414.9,786.6 1424.4,776.8 1434.0,771.2" fill="none" stroke="#FF00FF" stroke-width="1.25" stroke-linejoin="round" />
<text x="3.0" y="732.4" fill="#D4D4D4" font-size="18.5" stroke="#000" stroke-width="0.4" textLength="84.3" lengthAdjust="spacingAndGlyphs">KDJ(9,3,3)</text>
<text x="97.2" y="732.4" fill="#E4E4E4" font-size="18.5" stroke="#000" stroke-width="0.4" textLength="66.1" lengthAdjust="spacingAndGlyphs">K: 70.48</text>
<text x="172.0" y="732.4" fill="#FFFF00" font-size="18.5" stroke="#000" stroke-width="0.4" textLength="67.3" lengthAdjust="spacingAndGlyphs">D: 63.44</text>
<text x="248.0" y="732.4" fill="#FF00FF" font-size="18.5" stroke="#000" stroke-width="0.4" textLength="63.6" lengthAdjust="spacingAndGlyphs">J: 84.56</text>
<rect x="2.7" y="536.4" width="1481.3" height="1.9" fill="#A40000"/>
<rect x="2.7" y="712" width="1481.3" height="2" fill="#A00000"/>
<rect x="2.7" y="888.6" width="1481.3" height="2.4" fill="#A00000"/>
<rect x="1467.7" y="10" width="1.7" height="881" fill="#A80000"/>
<rect x="1468" y="32.2" width="8.5" height="1.6" fill="#A80000"/>
<rect x="1468" y="110.2" width="8.5" height="1.6" fill="#A80000"/>
<rect x="1468" y="187.2" width="8.5" height="1.6" fill="#A80000"/>
<rect x="1468" y="265.2" width="8.5" height="1.6" fill="#A80000"/>
<rect x="1468" y="342.7" width="8.5" height="1.6" fill="#A80000"/>
<rect x="1468" y="420.2" width="8.5" height="1.6" fill="#A80000"/>
<rect x="1468" y="497.7" width="8.5" height="1.6" fill="#A80000"/>
<rect x="1468" y="71.2" width="4" height="1.6" fill="#A80000"/>
<rect x="1468" y="148.7" width="4" height="1.6" fill="#A80000"/>
<rect x="1468" y="226.2" width="4" height="1.6" fill="#A80000"/>
<rect x="1468" y="304.0" width="4" height="1.6" fill="#A80000"/>
<rect x="1468" y="381.5" width="4" height="1.6" fill="#A80000"/>
<rect x="1468" y="459.0" width="4" height="1.6" fill="#A80000"/>
<rect x="1468" y="586.2" width="8.5" height="1.6" fill="#A80000"/>
<rect x="1468" y="628.2" width="8.5" height="1.6" fill="#A80000"/>
<rect x="1468" y="668.6" width="8.5" height="1.6" fill="#A80000"/>
<rect x="1468" y="607.2" width="4" height="1.6" fill="#A80000"/>
<rect x="1468" y="648.9" width="4" height="1.6" fill="#A80000"/>
<line x1="1468" y1="690.2" x2="1484" y2="690.2" stroke="#A80000" stroke-width="1.6"/>
<path d="M1472.5 695 L1482.5 708.5 M1482.5 695 L1472.5 708.5" stroke="#B02020" stroke-width="1.2"/>
<rect x="1469.8" y="714.8" width="13.5" height="174" fill="none" stroke="#A80000" stroke-width="1.6"/>
</svg></body></html>
